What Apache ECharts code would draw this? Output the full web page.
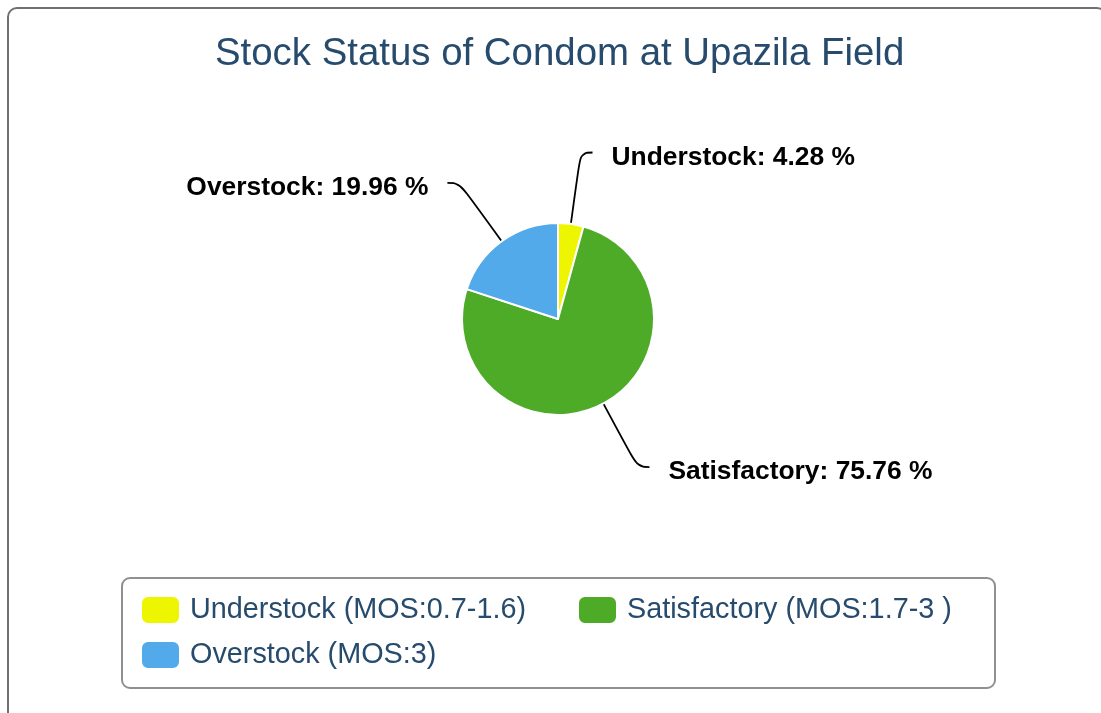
<!DOCTYPE html>
<html>
<head>
<meta charset="utf-8">
<title>Stock Status of Condom at Upazila Field</title>
<script src="https://cdn.jsdelivr.net/npm/echarts@6/dist/echarts.min.js"></script>
<style>
    html, body { margin: 0; padding: 0; background: #fff; overflow: hidden; }
    #frame {
        position: absolute; left: 7px; top: 7px; width: 1100px; height: 730px;
        border: 2px solid #707070; border-radius: 10px; box-sizing: border-box;
    }
    #main { position: absolute; left: 0; top: 0; width: 1101px; height: 713px; }
</style>
</head>
<body>
<div id="frame"></div>
<div id="main"></div>
<script>
// data
var sliceNames = ['Understock', 'Satisfactory', 'Overstock'];
var legendNames = ['Understock (MOS:0.7-1.6)', 'Satisfactory (MOS:1.7-3 )', 'Overstock (MOS:3)'];
var sliceValues = [4.28, 75.76, 19.96];

var pieData = [];
for (var i = 0; i < sliceValues.length; i++) {
    pieData.push({ value: sliceValues[i], name: legendNames[i] });
}
// first legend column a bit wider so the second column lines up
var legendData = legendNames.map(function (n, idx) {
    return { name: n, textStyle: { width: idx === 0 ? 372 : 368 } };
});

var fontName = '"Liberation Sans", Arial, sans-serif';
var chart = echarts.init(document.getElementById('main'));
var option = {
    animation: false,
    color: ['#eef500', '#4dab28', '#52aaea'],
    textStyle: { fontFamily: fontName },
    title: {
        text: 'Stock Status of Condom at Upazila Field',
        left: 210,
        top: 30,
        padding: 5,
        textStyle: { color: '#274b6d', fontSize: 38.4, fontWeight: 'normal', fontFamily: fontName }
    },
    legend: {
        left: 122,
        top: 578,
        width: 860,
        orient: 'horizontal',
        padding: [17, 0, 18, 18],
        itemGap: 15,
        itemWidth: 39,
        itemHeight: 28,
        icon: 'roundRect',
        borderColor: '#909090',
        borderWidth: 2,
        borderRadius: 8,
        selectedMode: false,
        textStyle: {
            color: '#274b6d', fontSize: 28.8, lineHeight: 28, width: 368,
            padding: [0, 0, 0, 5],
            fontFamily: fontName
        },
        data: legendData
    },
    series: [{
        type: 'pie',
        center: [558, 319],
        radius: 96,
        startAngle: 90,
        clockwise: true,
        avoidLabelOverlap: false,
        itemStyle: { borderColor: '#fff', borderWidth: 2 },
        emphasis: { disabled: true },
        label: {
            show: true,
            position: 'outside',
            distanceToLabelLine: 19,
            formatter: function (p) {
                return '{t|' + sliceNames[p.dataIndex] + ': ' + p.value.toFixed(2) + ' %}';
            },
            rich: {
                t: {
                    color: '#000',
                    fontSize: 26.4,
                    fontWeight: 'bold',
                    fontFamily: fontName,
                    padding: [10, 0, 0, 0]
                }
            }
        },
        labelLine: {
            show: true,
            length: 72,
            length2: 12,
            smooth: 0.45,
            lineStyle: { color: '#000', width: 1.8 }
        },
        data: pieData
    }]
};
chart.setOption(option);
</script>
</body>
</html>
